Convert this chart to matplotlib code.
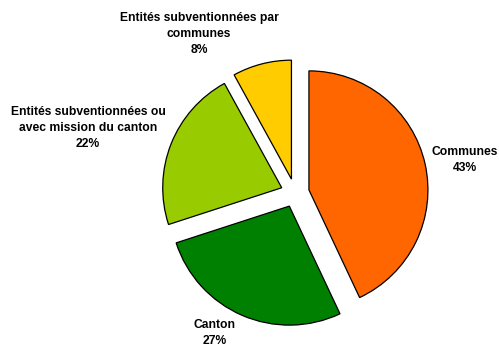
import matplotlib.pyplot as plt
import numpy as np

plt.rcParams['font.family'] = ['Liberation Sans', 'DejaVu Sans']

labels = ['Communes', 'Canton',
          'Entités subventionnées ou\navec mission du canton',
          'Entités subventionnées par\ncommunes']
shares = [43, 27, 22, 8]
colors = ['#FF6600', '#008000', '#99CC00', '#FFCC00']

# label centres, in pixels of the 499x347 canvas
label_px = [(465, 160), (215, 333), (88, 128), (199, 34)]

W, H = 499, 347
cx, cy, r = 295, 193, 119

fig = plt.figure(figsize=(W / 100, H / 100), dpi=100)
ax = fig.add_axes([0, 0, 1, 1])

ax.pie(shares, colors=colors, startangle=90, counterclock=False,
       explode=[0.12] * len(shares),
       wedgeprops=dict(edgecolor='black', linewidth=0.9))

for lab, val, (px, py) in zip(labels, shares, label_px):
    ax.text((px - cx) / r, (cy - py) / r, f'{lab}\n{val}%',
            ha='center', va='center', multialignment='center',
            fontsize=8.7, fontweight='bold', linespacing=1.42)

ax.set_xlim(-cx / r, (W - cx) / r)
ax.set_ylim(-(H - cy) / r, cy / r)
ax.set_aspect('auto')
ax.axis('off')

fig.savefig('out.png', dpi=100)
